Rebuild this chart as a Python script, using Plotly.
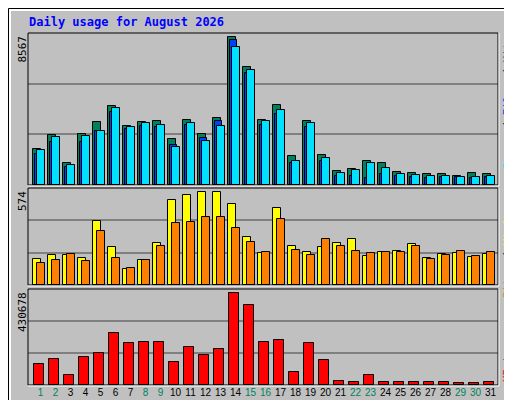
import plotly.graph_objects as go

days = list(range(1, 32))
weekend = [1, 2, 8, 9, 15, 16, 22, 23, 29, 30]
hits = [2098,2914,1282,2972,3672,4604,3438,3672,3730,2681,3788,2972,3905,8567,6819,3788,4662,1690,3730,1748,816,932,1399,1282,758,699,641,641,525,699,641]
files = [1807,2506,1049,2506,3147,4254,3264,3438,3380,2331,3497,2739,3730,8392,6527,3497,4138,1282,3380,1399,525,525,408,641,525,466,408,466,466,408,466]
pages = [2040,2797,1166,2856,3147,4487,3380,3613,3497,2215,3613,2564,3438,7984,6702,3730,4371,1399,3613,1574,699,874,1282,991,641,583,525,525,466,466,525]
visits = [162,187,187,168,393,231,100,156,256,524,555,574,574,499,293,200,474,237,206,231,256,281,181,206,212,250,168,193,200,175,193]
sites = [137,156,193,150,331,168,106,156,237,381,387,418,418,349,262,206,406,218,187,281,237,212,200,206,206,243,162,187,212,181,206]
kbytes = [95880,119457,48726,128888,147749,242057,194903,199619,199619,105311,176042,138318,166611,430678,374088,199619,209049,62872,194903,114741,20433,15718,48726,15718,15718,15718,15718,15718,11003,11003,15718]

W, H = 512, 400
L, R, T, B = 20, 490, 25, 377
def px(x): return (x - L) / (R - L)
def py(y): return (B - y) / (B - T)

fig = go.Figure()
line = dict(color="black", width=1)
def bar(y, color, off, wid, ax):
    fig.add_trace(go.Bar(x=days, y=y, marker=dict(color=color, line=line),
                         offset=off, width=wid, xaxis="x", yaxis=ax, showlegend=False, hoverinfo="skip"))

bar(hits, "#00805c", 0.0, 0.53, "y3")
bar(files, "#0040ff", 0.1, 0.5, "y3")
bar(pages, "#00e0ff", 0.27, 0.5, "y3")
bar(visits, "#ffff00", 0.0, 0.53, "y2")
bar(sites, "#ff8000", 0.27, 0.5, "y2")
bar(kbytes, "#ff0000", 0.07, 0.68, "y")

def yax(dom, top):
    return dict(domain=dom, range=[0, top], tickvals=[top/3, 2*top/3], showticklabels=False,
                gridcolor="#808080", gridwidth=1.5, zeroline=False, showline=False, fixedrange=True)

ticktext = [f'<span style="color:{"#00805c" if d in weekend else "black"}">{d}</span>' for d in days]
fig.update_layout(
    width=W, height=H, margin=dict(l=L, r=W-R, t=T, b=H-B, autoexpand=False),
    paper_bgcolor="#c0c0c0", plot_bgcolor="#c0c0c0", barmode="overlay", bargap=0,
    font=dict(family="DejaVu Sans Mono", size=11, color="black"),
    xaxis=dict(range=[0.667, 32], tickvals=[d + 0.5 for d in days], ticktext=ticktext, tickangle=0,
               showgrid=False, ticks="", zeroline=False, tickfont=dict(size=10, family="Liberation Sans"),
               anchor="y", automargin=False),
    yaxis=yax([0, py(281)], 448000),
    yaxis2=yax([py(277), py(180)], 597),
    yaxis3=yax([py(177), 1], 8820),
)

shapes = []
for y0, y1 in [(281, 377), (180, 277), (25, 177)]:
    shapes.append(dict(type="rect", xref="paper", yref="paper", x0=0, x1=1, y0=py(y1), y1=py(y0),
                       line=dict(color="black", width=1)))
    shapes.append(dict(type="line", xref="paper", yref="paper", x0=px(L), x1=px(R+1), y0=py(y1+1), y1=py(y1+1),
                       line=dict(color="white", width=1)))
    shapes.append(dict(type="line", xref="paper", yref="paper", x0=px(R+1), x1=px(R+1), y0=py(y1+1), y1=py(y0),
                       line=dict(color="white", width=1)))
shapes.append(dict(type="rect", xref="paper", yref="paper", x0=px(0.5), x1=px(511.5), y0=py(399.5), y1=py(0.5),
                   line=dict(color="black", width=1)))
shapes.append(dict(type="rect", xref="paper", yref="paper", x0=px(2), x1=px(509), y0=py(397), y1=py(2),
                   line=dict(color="white", width=2)))
shapes.append(dict(type="line", xref="paper", yref="paper", x0=px(2), x1=px(509), y0=py(396), y1=py(396),
                   line=dict(color="#808080", width=3)))
shapes.append(dict(type="line", xref="paper", yref="paper", x0=px(508), x1=px(508), y0=py(397), y1=py(2),
                   line=dict(color="#808080", width=3)))
fig.update_layout(shapes=shapes)

ann = [
    dict(text="<b>Daily usage for August 2026</b>", x=px(19), y=py(14), xanchor="left", yanchor="middle",
         font=dict(color="#0000ff", size=12)),
    dict(text="8567", x=px(14), y=py(26), xanchor="center", yanchor="top", textangle=-90),
    dict(text="574", x=px(14), y=py(181), xanchor="center", yanchor="top", textangle=-90),
    dict(text="430678", x=px(14), y=py(282), xanchor="center", yanchor="top", textangle=-90),
    dict(text='<span style="color:#00e0ff">Pages</span> / <span style="color:#0040ff">Files</span> / <span style="color:#00805c">Hits</span>',
         x=px(499), y=py(26), xanchor="center", yanchor="top", textangle=-90),
    dict(text='<span style="color:#ff8000">Sites</span> / <span style="color:#ffff00">Visits</span>',
         x=px(499), y=py(196), xanchor="center", yanchor="top", textangle=-90),
    dict(text='<span style="color:#ff0000">KBytes</span>', x=px(499), y=py(376), xanchor="center", yanchor="bottom", textangle=-90),
]
for a in ann:
    a.update(xref="paper", yref="paper", showarrow=False)
fig.update_layout(annotations=ann)

fig.write_html("out.html")
